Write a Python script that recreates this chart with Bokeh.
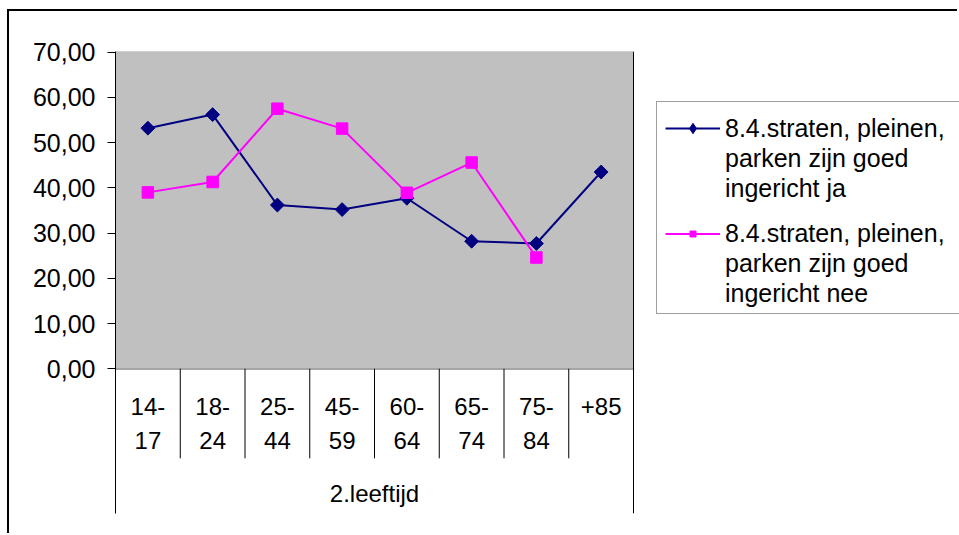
import math
from bokeh.plotting import figure
from bokeh.models import (Range1d, FixedTicker, Legend, LegendItem, BoxAnnotation,
                          Span, ColumnDataSource)
from bokeh.core.properties import value
from bokeh.embed import file_html
from bokeh.resources import INLINE

# ---------------- data ----------------
categories = ["14-\n17", "18-\n24", "25-\n44", "45-\n59", "60-\n64", "65-\n74", "75-\n84", "+85"]
group_label = "2.leeftijd"
series_ja = [53.2, 56.2, 36.2, 35.2, 37.7, 28.2, 27.7, 43.5]
series_nee = [39.0, 41.3, 57.5, 53.1, 38.9, 45.6, 24.6, float("nan")]
name_ja = ["8.4.straten, pleinen,", "parken zijn goed", "ingericht ja"]
name_nee = ["8.4.straten, pleinen,", "parken zijn goed", "ingericht nee"]
y_ticks = [0, 10, 20, 30, 40, 50, 60, 70]
y_tick_labels = ["0,00", "10,00", "20,00", "30,00", "40,00", "50,00", "60,00", "70,00"]

FONT = "Liberation Sans"
n = len(categories)
xc = [i + 0.5 for i in range(n)]

W, H = 950, 524
LEFT, TOP, BOTTOM = 106, 40, 22
x_end = (W - LEFT) / 64.75

# ---------------- figure ----------------
p = figure(width=W, height=H, output_backend="svg", toolbar_location=None,
           x_axis_location=None,
           x_range=Range1d(0, x_end), y_range=Range1d(-32.0, 70.15),
           min_border_left=LEFT, min_border_top=TOP, min_border_bottom=BOTTOM,
           min_border_right=0, background_fill_color="white",
           border_fill_color="white", outline_line_color=None)
p.styles = {"border-left": "2px solid black", "border-top": "2px solid black",
            "margin-left": "7px", "margin-top": "9px"}

# gray plot area
p.add_layout(BoxAnnotation(bottom=0, top=None, left=0, right=n, fill_color="#C0C0C0",
                           fill_alpha=1.0, line_color=None, level="underlay"))
p.xgrid.visible = False
p.ygrid.visible = False
p.yaxis.ticker = FixedTicker(ticks=y_ticks)
p.yaxis.major_label_overrides = {t: l for t, l in zip(y_ticks, y_tick_labels)}
p.yaxis.major_label_text_font = FONT
p.yaxis.major_label_text_font_size = "25px"
p.yaxis.major_label_text_color = "black"
p.yaxis.major_label_standoff = 12
p.yaxis.major_tick_out = 8
p.yaxis.major_tick_in = 0
p.yaxis.major_tick_line_color = "black"
p.yaxis.minor_tick_line_color = None
p.yaxis.axis_line_color = "black"

# horizontal gridlines limited to the plot area
p.segment(x0=[0] * len(y_ticks), y0=y_ticks, x1=[n] * len(y_ticks), y1=y_ticks,
          line_color="#505050", line_width=1.5, level="underlay")

# right border line of the plot area / category box
p.add_layout(Span(location=n, dimension="height", line_color="black", line_width=1))

# category separators
sep_x = list(range(1, n))
p.segment(x0=sep_x, y0=[0] * len(sep_x), x1=sep_x, y1=[-19.8] * len(sep_x),
          line_color="black", line_width=1)

# category labels (two lines)
line1 = [c.split("\n")[0] for c in categories]
line2 = [c.split("\n")[1] if "\n" in c else "" for c in categories]
p.text(x=xc, y=[-8.3] * n, text=line1, text_align="center", text_baseline="middle",
       text_font=value(FONT), text_font_size="24px", text_color="black")
p.text(x=xc, y=[-15.9] * n, text=line2, text_align="center", text_baseline="middle",
       text_font=value(FONT), text_font_size="24px", text_color="black")
p.text(x=[n / 2], y=[-27.6], text=[group_label], text_align="center",
       text_baseline="middle", text_font=value(FONT), text_font_size="24px",
       text_color="black")

# series
src = ColumnDataSource(dict(x=xc, ja=series_ja, nee=series_nee))
l1 = p.line("x", "ja", source=src, line_color="#000080", line_width=2)
m1 = p.scatter("x", "ja", source=src, marker="square", angle=math.pi / 4, size=9.8,
               fill_color="#000080", line_color="#000080")
l2 = p.line("x", "nee", source=src, line_color="#FF00FF", line_width=2)
m2 = p.scatter("x", "nee", source=src, marker="square", size=11.5,
               fill_color="#FF00FF", line_color="#FF00FF")

# invisible renderer used for legend rows without a symbol
blank = p.line(x=[0], y=[-100], line_alpha=0)
# legend-only diamond symbol (outside the visible range)
ja_key = p.scatter(x=[0], y=[-100], marker="diamond", fill_color="#000080",
                   line_color="#000080")

# legend frame
legend_box = Legend(items=[LegendItem(label=" ", renderers=[blank])],
                    location=(541, 199), margin=0, padding=0, spacing=0,
                    glyph_width=300, glyph_height=211, label_standoff=0,
                    label_text_font_size="10px",
                    border_line_color="#404040", border_line_width=1,
                    background_fill_color="white", background_fill_alpha=1.0)
p.add_layout(legend_box, "center")


def series_legend(names, rends, vy, gh):
    items = [LegendItem(label=names[0], renderers=rends)]
    items += [LegendItem(label=t, renderers=[blank]) for t in names[1:]]
    return Legend(items=items, location=(550, vy), margin=0, padding=0, spacing=0,
                  glyph_width=55, glyph_height=gh, label_height=30, label_standoff=5,
                  label_text_font=FONT, label_text_font_size="25px",
                  label_text_color="black", border_line_color=None,
                  background_fill_alpha=0.0)


p.add_layout(series_legend(name_ja, [l1, ja_key], 310, 26), "center")
p.add_layout(series_legend(name_nee, [l2, m2], 205, 15), "center")

open("out.html", "w").write(file_html(p, INLINE))
